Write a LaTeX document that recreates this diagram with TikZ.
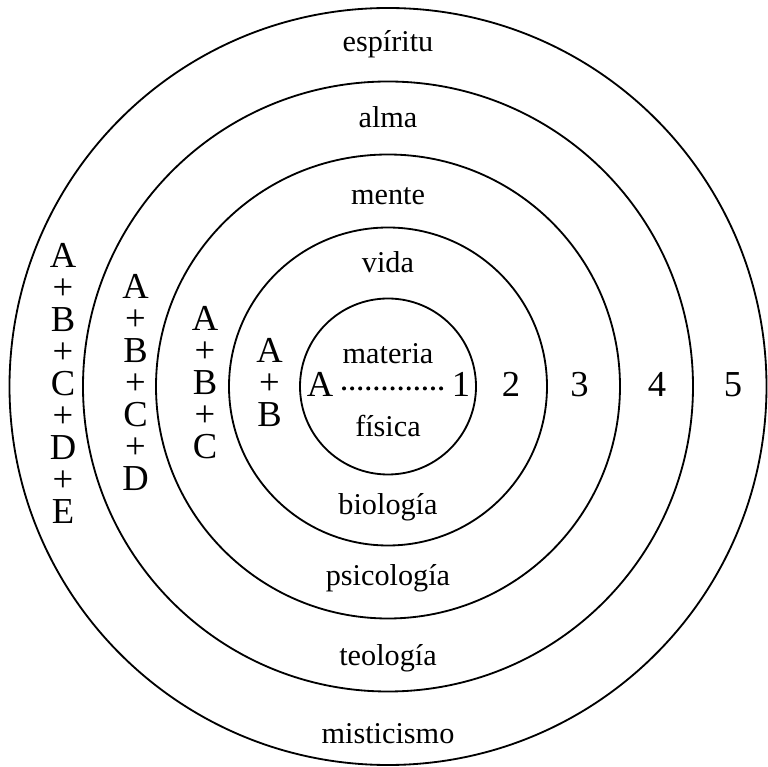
\documentclass[tikz,border=0pt]{standalone}
\usepackage{fontspec}
\setmainfont{Liberation Serif}
\usepackage{tikz}
\usetikzlibrary{positioning}
\tikzset{
  ring/.style  ={draw=black,line width=1.3pt},
  layer/.style ={inner sep=0pt,anchor=base,font=\fontsize{21.5}{24}\selectfont},
  sym/.style   ={inner sep=0pt,anchor=base,font=\fontsize{26}{22.8}\selectfont},
  stack/.style ={sym,align=center,anchor=center},
  dotline/.style={line width=2.9pt,line cap=round,dash pattern=on 0pt off 5.75pt}
}
\begin{document}
\begin{tikzpicture}[x=0.025cm,y=0.025cm]
    \useasboundingbox (-388,-380.5) rectangle (380,386.5);
    % the five rings
    \draw[ring] (0,0) circle (88);
    \draw[ring] (0,0) circle (159);
    \draw[ring] (0,0) circle (232);
    \draw[ring] (0,0) circle (305);
    \draw[ring] (0,0) circle (378.5);
    % names of the layers, upper half
    \node[layer] (espiritu) at (0,334.5) {espíritu};
    \node[layer] (alma)     at (0,258.5) {alma};
    \node[layer] (mente)    at (0,181.5) {mente};
    \node[layer] (vida)     at (0,113.5) {vida};
    \node[layer] (materia)  at (0,22.5)  {materia};
    % names of the sciences, lower half
    \node[layer] (fisica)     at (0,-50.5)  {física};
    \node[layer] (biologia)   at (0,-128.5) {biología};
    \node[layer] (psicologia) at (0,-198.5) {psicología};
    \node[layer] (teologia)   at (0,-278.5) {teología};
    \node[layer] (misticismo) at (0,-356.5) {misticismo};
    % core axis and ring numbers
    \node[sym] (a)     at (-68,-10.5)  {A};
    \node[sym] (one)   at (73,-10.5)   {1};
    \node[sym] (two)   at (123,-10.5)  {2};
    \node[sym] (three) at (191.5,-10.5) {3};
    \node[sym] (four)  at (269,-10.5)  {4};
    \node[sym] (five)  at (345,-10.5)  {5};
    \draw[dotline,shorten <=7.5pt,shorten >=7pt] ([yshift=-2.5pt]a.east) -- ([yshift=-2.5pt]one.west);
    % sums on the left side
    \node[stack] (ab)    at (-118.5,4) {A\\+\\B};
    \node[stack] (abc)   at (-183,4)   {A\\+\\B\\+\\C};
    \node[stack] (abcd)  at (-252.5,4) {A\\+\\B\\+\\C\\+\\D};
    \node[stack] (abcde) at (-325,3)   {A\\+\\B\\+\\C\\+\\D\\+\\E};
\end{tikzpicture}
\end{document}
